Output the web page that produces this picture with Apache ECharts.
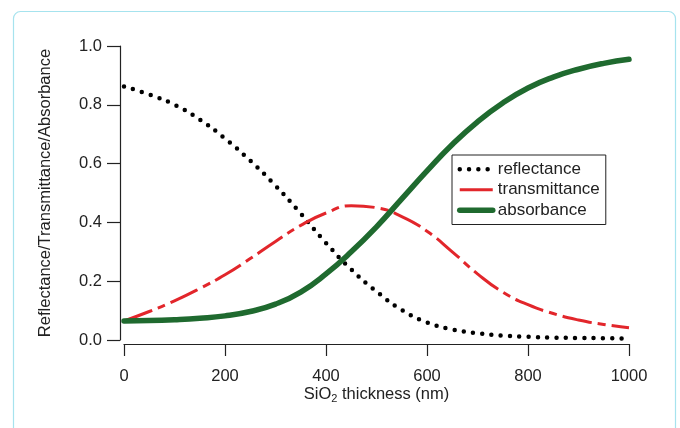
<!DOCTYPE html>
<html>
<head>
<meta charset="utf-8">
<script src="https://cdn.jsdelivr.net/npm/echarts@6/dist/echarts.min.js"></script>
<style>
  html, body { margin: 0; padding: 0; background: #fff; }
  #chart { width: 680px; height: 428px; }
</style>
</head>
<body>
<div id="chart"></div>
<script>
// SiO2 thickness (nm), sampled every 50 nm
var thickness = [0, 50, 100, 150, 200, 250, 300, 350, 400, 450, 500,
  550, 600, 650, 700, 750, 800, 850, 900, 950, 1000];
var reflectance = [0.862, 0.835, 0.80, 0.75, 0.685, 0.61, 0.525, 0.43, 0.33, 0.24, 0.165,
  0.102, 0.06, 0.036, 0.023, 0.015, 0.011, 0.008, 0.007, 0.006, 0.005];
var transmittance = [0.065, 0.097, 0.133, 0.175, 0.222, 0.277, 0.335, 0.39, 0.432, 0.457, 0.45,
  0.42, 0.37, 0.30, 0.225, 0.163, 0.12, 0.09, 0.068, 0.053, 0.042];
var absorbance = [0.065, 0.066, 0.069, 0.074, 0.082, 0.097, 0.122, 0.163, 0.225, 0.30, 0.385,
  0.48, 0.575, 0.665, 0.742, 0.806, 0.857, 0.894, 0.921, 0.941, 0.955];
var xTicks = [0, 200, 400, 600, 800, 1000];

function pairs(ys) {
  return thickness.map(function (x, i) { return [x, ys[i]]; });
}

var font = 'Liberation Sans, Arial, sans-serif';
var reflStyle = { color: '#000', width: 4.5, type: [0, 9.3], cap: 'round' };
var transStyle = { color: '#e2262b', width: 3, type: [30, 6, 8, 6] };
var absStyle = { color: '#1f6a2f', width: 5.5, cap: 'round' };

var chart = echarts.init(document.getElementById('chart'));

chart.setOption({
  animation: false,
  backgroundColor: '#fff',
  textStyle: { fontFamily: font },
  graphic: [{
    type: 'rect',
    z: -10,
    shape: { x: 13.5, y: 11.5, width: 662, height: 440, r: 7 },
    style: { fill: '#fff', stroke: '#a6e3ee', lineWidth: 1.2 }
  }],
  grid: { left: 124, right: 51, top: 46, bottom: 88 },
  legend: {
    left: 452,
    top: 155,
    orient: 'vertical',
    borderColor: '#222',
    borderWidth: 1,
    borderRadius: 0,
    padding: [4, 6, 4, 5],
    itemWidth: 33,
    itemHeight: 14,
    itemGap: 0,
    itemStyle: { opacity: 0 },
    textStyle: { fontSize: 17, color: '#222', fontFamily: font, lineHeight: 20.5 },
    data: [
      { name: 'reflectance', lineStyle: reflStyle },
      { name: 'transmittance', lineStyle: { color: '#e2262b', width: 3, type: 'solid' } },
      { name: 'absorbance', lineStyle: absStyle }
    ]
  },
  xAxis: {
    type: 'value',
    min: 0,
    max: 1000,
    interval: 200,
    offset: 4,
    name: 'SiO{sub|2} thickness (nm)',
    nameLocation: 'middle',
    nameGap: 41,
    nameMoveOverlap: false,
    nameTextStyle: {
      fontSize: 16.5, color: '#222', fontFamily: font,
      rich: { sub: { fontSize: 11, color: '#222', fontFamily: font, verticalAlign: 'bottom', padding: [8, 0, 0, 0] } }
    },
    axisLine: { show: true, onZero: false, lineStyle: { color: '#222', width: 1.2 } },
    axisTick: { show: true, length: 12, lineStyle: { color: '#222', width: 1.2 } },
    axisLabel: {
      fontSize: 16.5, color: '#222', margin: 24,
      formatter: function (v) { return String(v); }
    },
    splitLine: { show: false }
  },
  yAxis: {
    type: 'value',
    min: 0,
    max: 1,
    interval: 0.2,
    offset: 4,
    name: 'Reflectance/Transmittance/Absorbance',
    nameLocation: 'middle',
    nameGap: 66,
    nameMoveOverlap: false,
    nameTextStyle: { fontSize: 16.5, color: '#222', fontFamily: font },
    axisLine: { show: true, onZero: false, lineStyle: { color: '#222', width: 1.2 } },
    axisTick: { show: true, length: 13, lineStyle: { color: '#222', width: 1.2 } },
    axisLabel: {
      fontSize: 16.5, color: '#222', margin: 18,
      formatter: function (v) { return v.toFixed(1); }
    },
    splitLine: { show: false }
  },
  series: [
    {
      name: 'reflectance',
      type: 'line',
      smooth: true,
      symbol: 'none',
      data: pairs(reflectance),
      color: '#000',
      lineStyle: reflStyle
    },
    {
      name: 'transmittance',
      type: 'line',
      smooth: true,
      symbol: 'none',
      data: pairs(transmittance),
      color: '#e2262b',
      lineStyle: transStyle
    },
    {
      name: 'absorbance',
      type: 'line',
      smooth: true,
      symbol: 'none',
      data: pairs(absorbance),
      color: '#1f6a2f',
      lineStyle: absStyle
    }
  ]
});
</script>
</body>
</html>
